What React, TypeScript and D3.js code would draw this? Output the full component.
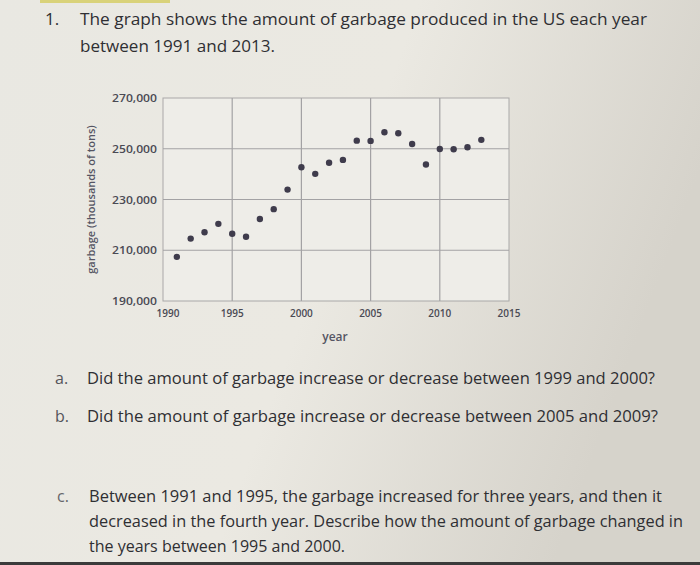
import React from 'react';
import * as d3 from 'd3';

// years 1991..2013 and garbage in thousands of tons
const years = [1991, 1992, 1993, 1994, 1995, 1996, 1997, 1998, 1999, 2000, 2001, 2002, 2003, 2004, 2005, 2006, 2007, 2008, 2009, 2010, 2011, 2012, 2013];
const garbage = [207400, 214600, 217100, 220400, 216500, 215300, 222300, 226200, 233900, 242700, 240100, 244500, 245600, 253200, 253100, 256500, 256100, 251900, 243800, 249900, 249800, 250600, 253500];
const xTicks = [1990, 1995, 2000, 2005, 2010, 2015];
const yTicks = [190000, 210000, 230000, 250000, 270000];

const titleLines = [
  'The graph shows the amount of garbage produced in the US each year',
  'between 1991 and 2013.',
];
const questionA = 'Did the amount of garbage increase or decrease between 1999 and 2000?';
const questionB = 'Did the amount of garbage increase or decrease between 2005 and 2009?';
const questionC = [
  'Between 1991 and 1995, the garbage increased for three years, and then it',
  'decreased in the fourth year. Describe how the amount of garbage changed in',
  'the years between 1995 and 2000.',
];

const W = 700;
const H = 565;
const FONT = '"Open Sans", "Noto Sans", sans-serif';
const INK = '#2f2f33';

const App: React.FC = () => {
  const x = d3.scaleLinear().domain([1990, 2015]).range([163, 509]);
  const y = d3.scaleLinear().domain([190000, 270000]).range([301, 98]);
  const fmt = d3.format(',');
  const pts = years.map((yr, i) => ({ yr, v: garbage[i] }));

  return (
    <svg width={W} height={H} style={{ position: 'absolute', left: 0, top: 0 }}>
      <defs>
        <linearGradient id="paper" x1="0" y1="0" x2="1" y2="0.3">
          <stop offset="0" stopColor="#e9e8e2" />
          <stop offset="0.55" stopColor="#ebe9e2" />
          <stop offset="1" stopColor="#d6d3cb" />
        </linearGradient>
      </defs>
      <rect width={W} height={H} fill="url(#paper)" />
      <rect x={40} y={0} width={130} height={3} fill="#d9d27a" />
      <rect x={0} y={562} width={W} height={3} fill="#3b3b3b" />

      {/* question header */}
      <text x={45} y={25} fontFamily={FONT} fontSize={17} fill={INK}>1.</text>
      <text x={80} y={25} fontFamily={FONT} fontSize={17} fill={INK} textLength={567} lengthAdjust="spacingAndGlyphs">{titleLines[0]}</text>
      <text x={80} y={52} fontFamily={FONT} fontSize={17} fill={INK} textLength={195} lengthAdjust="spacingAndGlyphs">{titleLines[1]}</text>

      {/* chart */}
      <rect x={x(1990)} y={y(270000)} width={x(2015) - x(1990)} height={y(190000) - y(270000)} fill="#eeede8" stroke="#a9a8a8" strokeWidth={1} />
      {xTicks.slice(1, -1).map(t => (
        <line key={'gx' + t} x1={x(t)} x2={x(t)} y1={y(270000)} y2={y(190000)} stroke="#a3a2a4" strokeWidth={1.2} />
      ))}
      {yTicks.slice(1, -1).map(t => (
        <line key={'gy' + t} x1={x(1990)} x2={x(2015)} y1={y(t)} y2={y(t)} stroke="#a3a2a4" strokeWidth={1.2} />
      ))}
      {yTicks.map(t => (
        <text key={'ty' + t} x={x(1990) - 6} y={y(t) + 4} textAnchor="end" fontFamily={FONT} fontSize={10} fontWeight={600} fill="#4a4a54" textLength={45} lengthAdjust="spacingAndGlyphs">{fmt(t)}</text>
      ))}
      {xTicks.map(t => (
        <text key={'tx' + t} x={x(t) + (t === 1990 ? 5 : 0)} y={y(190000) + 16} textAnchor="middle" fontFamily={FONT} fontSize={10} fontWeight={600} fill="#4a4a54">{t}</text>
      ))}
      <text transform={`translate(95,${(y(190000) + y(270000)) / 2}) rotate(-90)`} textAnchor="middle" fontFamily={FONT} fontSize={11} fontWeight={600} fill="#555563">garbage (thousands of tons)</text>
      <text x={335} y={341} textAnchor="middle" fontFamily={FONT} fontSize={12} fontWeight={600} fill="#555563">year</text>
      {pts.map(p => (
        <circle key={p.yr} cx={x(p.yr)} cy={y(p.v)} r={3.2} fill="#3f3c4c" />
      ))}

      {/* questions */}
      <text x={55} y={384} fontFamily={FONT} fontSize={16} fill="#55555a">a.</text>
      <text x={87} y={384} fontFamily={FONT} fontSize={16} fill={INK} textLength={568} lengthAdjust="spacingAndGlyphs">{questionA}</text>
      <text x={55} y={422} fontFamily={FONT} fontSize={16} fill="#55555a">b.</text>
      <text x={87} y={422} fontFamily={FONT} fontSize={16} fill={INK} textLength={571} lengthAdjust="spacingAndGlyphs">{questionB}</text>
      <text x={57} y={502} fontFamily={FONT} fontSize={16} fill="#66666a">c.</text>
      <text x={89} y={502} fontFamily={FONT} fontSize={16} fill={INK} textLength={573} lengthAdjust="spacingAndGlyphs">{questionC[0]}</text>
      <text x={89} y={527} fontFamily={FONT} fontSize={15.5} fill={INK} textLength={594} lengthAdjust="spacingAndGlyphs">{questionC[1]}</text>
      <text x={89} y={552} fontFamily={FONT} fontSize={16} fill={INK} textLength={256} lengthAdjust="spacingAndGlyphs">{questionC[2]}</text>
    </svg>
  );
};

export default App;
